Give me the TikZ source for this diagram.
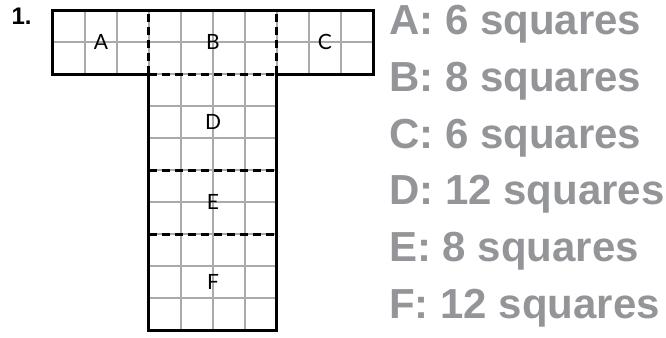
\documentclass[tikz,border=0pt]{standalone}
\usepackage{fontspec}
\setmainfont{Lato}
\newfontfamily\countfont{Liberation Sans}
\definecolor{countgray}{RGB}{147,149,152}
\definecolor{gridgray}{RGB}{170,170,173}
\tikzset{
  partlabel/.style={font=\fontsize{21}{24}\selectfont},
  countline/.style={anchor=base west,text=countgray,inner sep=0pt,
    font=\countfont\bfseries\fontsize{42}{48}\selectfont},
  cut/.style={line width=3pt,dash pattern=on 8pt off 5pt}
}
\begin{document}
\begin{tikzpicture}[x=32pt,y=32pt]
  \useasboundingbox (-1.656,-0.219) rectangle (19.156,10.313);
  % grid of unit squares
  \draw[step=1,gridgray,line width=1.4pt] (0,8) grid (10,10);
  \draw[step=1,gridgray,line width=1.4pt] (3,0) grid (7,8);
  % cut lines between the parts
  \draw[cut] (3,8) -- (3,10);
  \draw[cut] (7,8) -- (7,10);
  \draw[cut] (3,8) -- (7,8);
  \draw[cut] (3,5) -- (7,5);
  \draw[cut] (3,3) -- (7,3);
  % outline of the T
  \draw[line width=3pt,line join=miter] (0,10) -- (10,10) -- (10,8) -- (7,8) -- (7,0)
    -- (3,0) -- (3,8) -- (0,8) -- cycle;
  \node[font=\countfont\bfseries\fontsize{24}{28}\selectfont] (num) at (-0.98,9.8) {1.};
  \node[partlabel] (pa) at (1.5,9) {A};
  \node[partlabel] (pb) at (5,9) {B};
  \node[partlabel] (pc) at (8.5,9) {C};
  \node[partlabel] (pd) at (5,6.5) {D};
  \node[partlabel] (pe) at (5,4) {E};
  \node[partlabel] (pf) at (5,1.5) {F};
  % counts
  \foreach \t [count=\i from 0] in {A: 6 squares,B: 8 squares,C: 6 squares,
      D: 12 squares,E: 8 squares,F: 12 squares}
    \node[countline] (count\i) at (10.5,9.22-1.771*\i) {\t};
\end{tikzpicture}
\end{document}
